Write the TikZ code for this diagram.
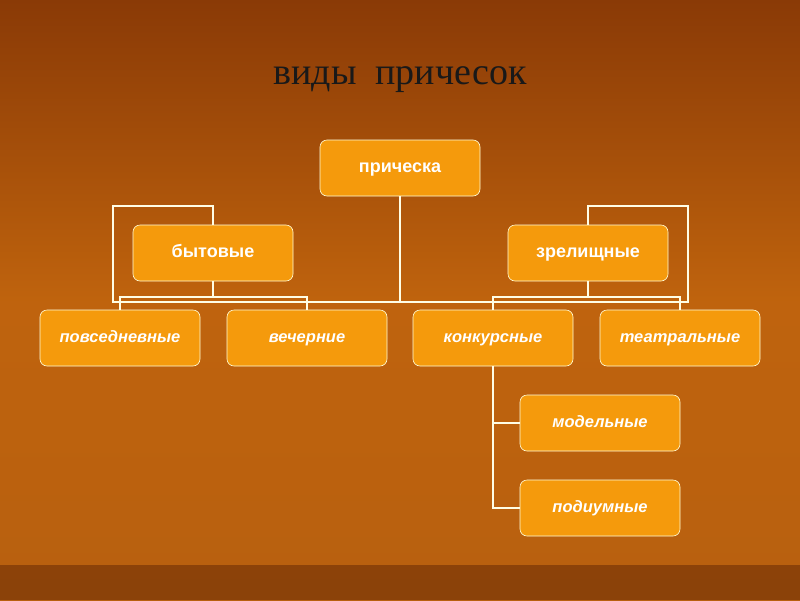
\documentclass[tikz,border=0pt]{standalone}
\usepackage{fontspec}
\setmainfont{Liberation Sans}
\newfontfamily\titlefont{Liberation Serif}
\usetikzlibrary{positioning}
\definecolor{bgdark}{HTML}{8A3A06}
\definecolor{bglight}{HTML}{B8600F}
\definecolor{boxfill}{HTML}{F59A0C}
\begin{document}
\begin{tikzpicture}[x=1pt,y=-1pt,line width=1.2pt,
  kind/.style={draw=white!85!yellow,line width=0.6pt,fill=boxfill,rounded corners=7pt,
    minimum width=160pt,minimum height=56pt,text height=12pt,text depth=3pt,text=white,
    font=\fontsize{18}{20}\selectfont\bfseries},
  sub/.style={kind,font=\fontsize{16.5}{20}\selectfont\bfseries\itshape},
  link/.style={draw=white!90!yellow}]
\tikzset{font=\fontsize{17pt}{20}\selectfont}
  \shade[top color=bgdark,bottom color=bglight,middle color=bglight!90!orange] (0,0) rectangle (800,600);
  \fill[bgdark!80!black,opacity=0.6] (0,565) rectangle (800,600);

  % title
  \node[text=black!90,font=\titlefont\fontsize{38}{40}\selectfont] (title) at (400,80) {виды\ \ причесок};

  \node[kind] (root)  at (400,168) {прическа};
  \node[kind] (bytov) at (213,253) {бытовые};
  \node[kind] (zrel)  at (588,253) {зрелищные};
  \node[sub]  (povs)  at (120,338) {повседневные};
  \node[sub]  (vech)  at (307,338) {вечерние};
  \node[sub]  (konk)  at (493,338) {конкурсные};
  \node[sub]  (teat)  at (680,338) {театральные};
  \node[sub]  (model) at (600,423) {модельные};
  \node[sub]  (podi)  at (600,508) {подиумные};

  % outer links
  \draw[link] (root.south) -- (400,302);
  \draw[link] (bytov.north) |- (113,206) |- (688,302) |- (588,206) -- (zrel.north);
  % inner links
  \draw[link] (bytov.south) -- (213,297);
  \draw[link] (povs.north) |- (307,297) -- (vech.north);
  \draw[link] (zrel.south) -- (588,297);
  \draw[link] (konk.north) |- (680,297) -- (teat.north);
  \draw[link] (konk.south) |- (model.west);
  \draw[link] (konk.south) |- (podi.west);
\end{tikzpicture}
\end{document}
